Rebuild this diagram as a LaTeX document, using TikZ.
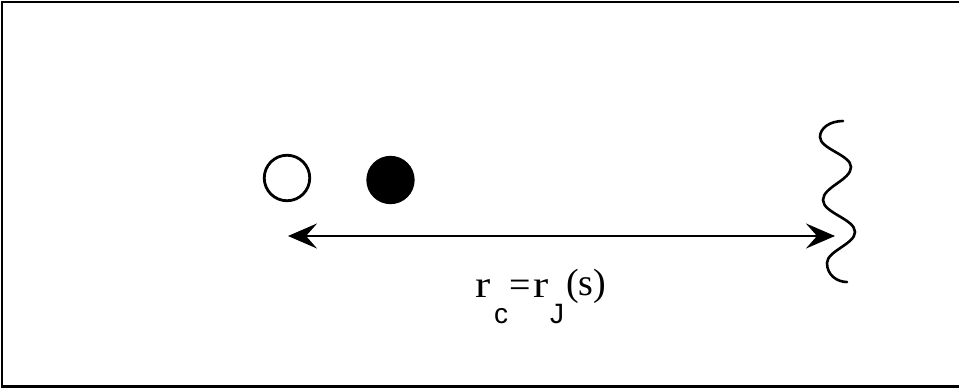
\documentclass[tikz,border=0pt]{standalone}
\usepackage{fontspec}
\setmainfont{Liberation Serif}
\newfontfamily\subfont{Liberation Sans}
\usetikzlibrary{arrows.meta}
\begin{document}
\begin{tikzpicture}[x=1pt,y=-1pt,
  line/.style={line width=2.6pt},
  ball/.style={circle, draw, line width=2.8pt, inner sep=0pt, minimum size=45.5pt},
  maintext/.style={anchor=base west, inner sep=0pt, font=\fontsize{38}{40}\selectfont},
  subtext/.style={anchor=base west, inner sep=0pt, font=\subfont\fontsize{28}{30}\selectfont}]
\useasboundingbox (0,0) rectangle (959,391);
% frame (right side lies outside the picture)
\draw[line width=2.8pt] (962,2) -- (2,2) -- (2,386.5) -- (962,386.5);
% particles
\node[ball, fill=white] (open) at (287,178) {};
\node[ball, fill=black] (full) at (390.5,180) {};
% distance arrow
\coordinate (aL) at (288,236);
\coordinate (aR) at (835,236);
\draw[line, {Stealth[length=29pt,width=25pt,inset=11pt]}-{Stealth[length=29pt,width=25pt,inset=11pt]}] (aL) -- (aR);
% wavy boundary
\draw[line, line cap=round] (843,121) .. controls (830,121) and (820,128) .. (820,137)
  .. controls (820,149) and (851,155) .. (851,167)
  .. controls (851,180) and (823,187) .. (823,200)
  .. controls (823,213) and (855,219) .. (855,232)
  .. controls (855,244) and (827,251) .. (827,263)
  .. controls (827,275) and (837,282) .. (847,282);
% label
\node[maintext] (r1) at (475,297) {\scalebox{1.2}[1]{r}};
\node[subtext] (sc) at (494,323) {c};
\node[maintext] (eq) at (509,297) {=};
\node[maintext] (r2) at (533,297) {\scalebox{1.2}[1]{r}};
\node[subtext] (sj) at (550,323) {J};
\node[maintext] (arg) at (566,295) {(s)};
\end{tikzpicture}
\end{document}
